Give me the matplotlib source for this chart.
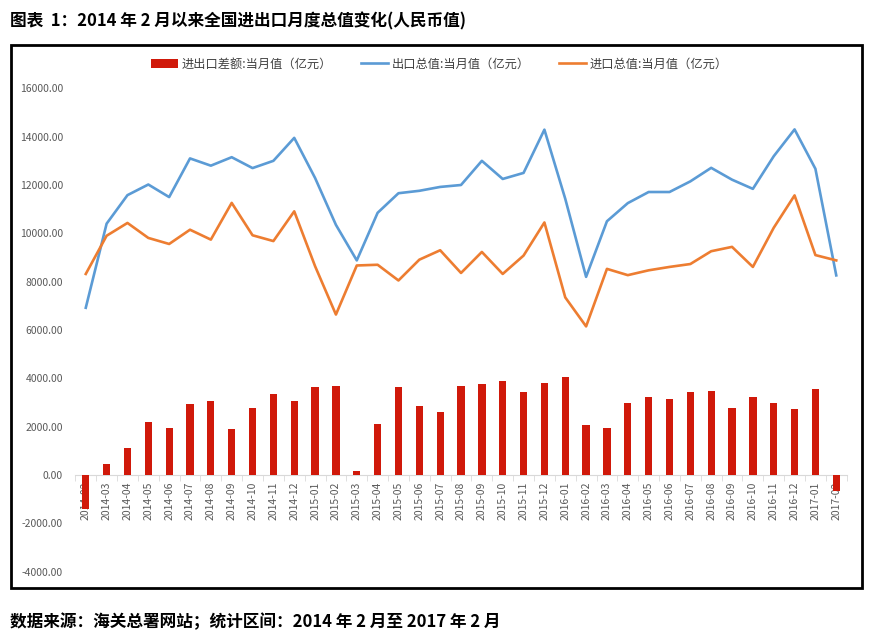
import matplotlib
matplotlib.use("Agg")
import matplotlib.pyplot as plt
from matplotlib.patches import Rectangle
from matplotlib.ticker import FixedLocator, FuncFormatter
import numpy as np

plt.rcParams['font.family'] = ['Noto Sans CJK SC', 'DejaVu Sans']

# ---------------------------数据--------------------------- #
months = [
    "2014-02", "2014-03", "2014-04", "2014-05", "2014-06", "2014-07", "2014-08",
    "2014-09", "2014-10", "2014-11", "2014-12", "2015-01", "2015-02", "2015-03",
    "2015-04", "2015-05", "2015-06", "2015-07", "2015-08", "2015-09", "2015-10",
    "2015-11", "2015-12", "2016-01", "2016-02", "2016-03", "2016-04", "2016-05",
    "2016-06", "2016-07", "2016-08", "2016-09", "2016-10", "2016-11", "2016-12",
    "2017-01", "2017-02",
]
# 出口总值:当月值（亿元）
exports = [
    6920, 10400, 11580, 12020, 11500, 13100, 12800, 13150, 12700, 13000, 13950,
    12290, 10350, 8880, 10850, 11660, 11760, 11920, 12000, 13000, 12250, 12500,
    14290, 11430, 8200, 10500, 11250, 11710, 11710, 12150, 12710, 12220, 11840,
    13190, 14300, 12670, 8260,
]
# 进口总值:当月值（亿元）
imports = [
    8320, 9900, 10430, 9810, 9560, 10150, 9740, 11260, 9920, 9680, 10910,
    8640, 6640, 8670, 8700, 8050, 8910, 9300, 8360, 9230, 8320, 9080,
    10450, 7350, 6150, 8530, 8270, 8470, 8610, 8730, 9260, 9440, 8610,
    10230, 11570, 9100, 8880,
]
# 进出口差额:当月值（亿元）
balance = [
    -1420, 470, 1120, 2200, 1940, 2920, 3050, 1900, 2770, 3350, 3050,
    3650, 3700, 170, 2100, 3650, 2850, 2620, 3680, 3760, 3910, 3430,
    3800, 4060, 2090, 1940, 2980, 3240, 3130, 3430, 3470, 2790, 3240,
    2980, 2740, 3550, -660,
]

red = "#D0190A"
blue = "#5B9BD5"
orange = "#ED7D31"
gray = "#595959"

fig = plt.figure(figsize=(8.7, 6.4), dpi=100)
ax = fig.add_axes([0.0866, 0.1067, 0.8866, 0.7553])

x = np.arange(len(months))
b = ax.bar(x, balance, width=0.35, color=red, zorder=3,
           label="进出口差额:当月值（亿元）")
l1, = ax.plot(x, exports, color=blue, lw=1.9, zorder=4,
              label="出口总值:当月值（亿元）")
l2, = ax.plot(x, imports, color=orange, lw=1.9, zorder=4,
              label="进口总值:当月值（亿元）")

ax.set_xlim(-0.5, len(months) - 0.5)
ax.set_ylim(-4000, 16000)
ax.set_yticks(np.arange(-4000, 16001, 2000))
ax.yaxis.set_major_formatter(FuncFormatter(lambda v, p: f"{v:.2f}"))
ax.tick_params(axis="y", length=0, pad=9, labelsize=7.5, labelcolor=gray)

for s in ["top", "right", "left"]:
    ax.spines[s].set_visible(False)
ax.spines["bottom"].set_position(("data", 0))
ax.spines["bottom"].set_color("#D9D9D9")
ax.spines["bottom"].set_zorder(2)

ax.set_xticks(x)
ax.set_xticklabels(months, rotation=90, fontsize=7.5, color=gray)
ax.xaxis.set_minor_locator(FixedLocator(np.arange(-0.5, len(months), 1)))
ax.tick_params(axis="x", which="major", length=0, pad=5)
ax.tick_params(axis="x", which="minor", length=4, color="#D9D9D9")

fig.legend(handles=[b, l1, l2], loc="center", bbox_to_anchor=(0.505, 0.9),
           ncol=3, frameon=False, fontsize=8.8, labelcolor="#404040",
           handlelength=2.2, columnspacing=2.4, handletextpad=0.3)

# 外框
fig.add_artist(Rectangle((0.0126, 0.081), 0.978, 0.8487, transform=fig.transFigure,
                         fill=False, edgecolor="black", lw=2))

fig.text(0.012, 0.966, "图表  1：2014 年 2 月以来全国进出口月度总值变化(人民币值)",
         fontsize=12, fontweight="bold", va="center", ha="left")
fig.text(0.012, 0.028, "数据来源：海关总署网站；统计区间：2014 年 2 月至 2017 年 2 月",
         fontsize=12, fontweight="bold", va="center", ha="left")

fig.savefig("out.png", dpi=100)
